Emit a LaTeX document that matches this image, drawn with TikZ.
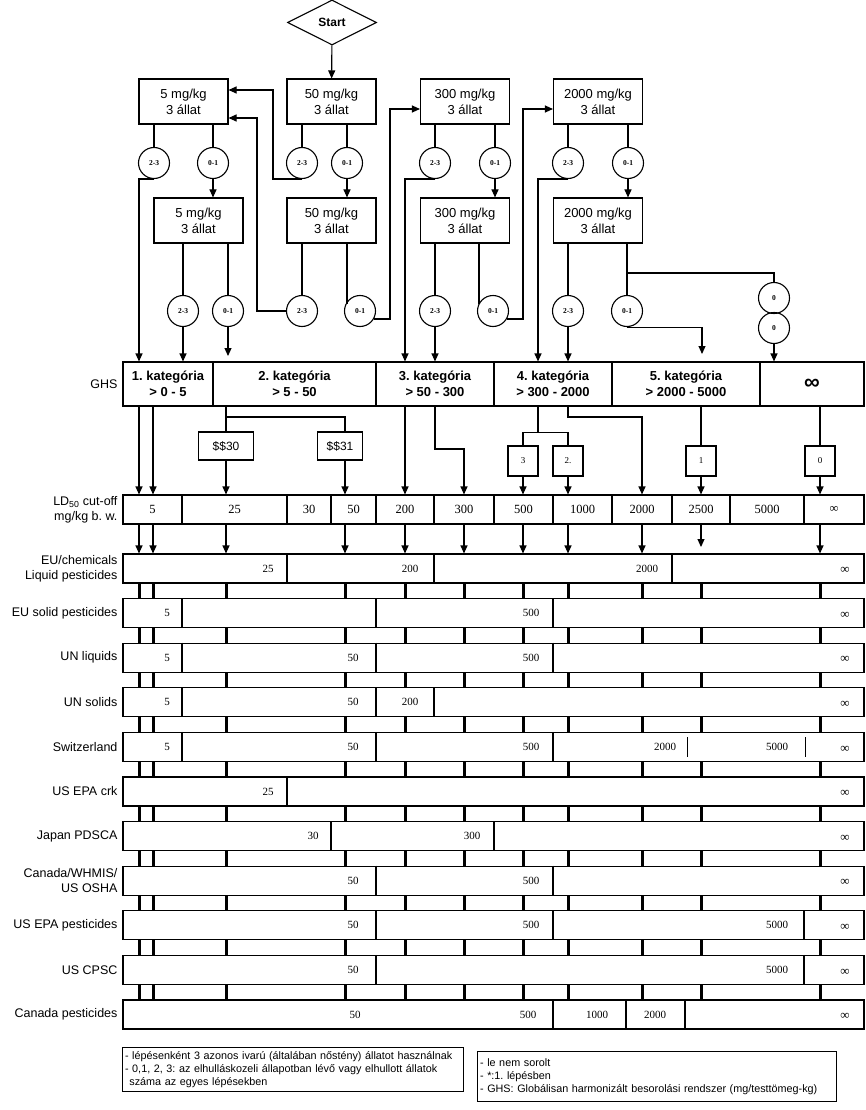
\documentclass[tikz,border=0pt]{standalone}
\usepackage{fontspec}
\setmainfont{Liberation Sans}
\newfontfamily\numfont{Liberation Serif}
\usetikzlibrary{shapes.geometric,arrows.meta}
\frenchspacing

\begin{document}
\begin{tikzpicture}[x=1pt,y=-1pt,line width=1.1pt,
  arr/.style={-{Triangle[length=8pt,width=7pt]}},
  dose/.style={draw,minimum width=89pt,minimum height=45pt,inner sep=0pt,align=center,font=\fontsize{13}{16}\selectfont},
  hit/.style={draw,circle,minimum size=31pt,inner sep=0pt,font=\numfont\bfseries\fontsize{7.5}{8}\selectfont},
  cell/.style={draw,minimum height=44pt,inner sep=0pt,align=center,font=\bfseries\fontsize{13}{16}\selectfont},
  ldcell/.style={draw,minimum height=29pt,inner sep=0pt,font=\numfont\fontsize{12.5}{14}\selectfont},
  tag/.style={draw,minimum size=30pt,inner sep=0pt,font=\numfont\fontsize{9}{10}\selectfont},
  stag/.style={draw,minimum height=28pt,inner sep=0pt,font=\fontsize{12}{14}\selectfont},
  rowbox/.style={draw,minimum width=741pt,minimum height=29pt,inner sep=0pt},
  rowlab/.style={anchor=east,align=right,inner sep=1pt,font=\fontsize{12.5}{15}\selectfont},
  val/.style={inner sep=0pt,font=\numfont\fontsize{11}{12}\selectfont},
  bar/.style={line width=3pt},
  legend/.style={draw,anchor=north west,align=left,inner sep=2.5pt,font=\fontsize{10.8}{13}\selectfont}]
\useasboundingbox (0,0) rectangle (866,1110);

\node[draw,diamond,aspect=2,minimum width=89pt,minimum height=45pt,inner sep=0pt,font=\bfseries\fontsize{12}{14}\selectfont] (start) at (332,22.5) {Start};
\node[dose] (d5a) at (183.5,101.5) {5 mg/kg\\3 állat};
\node[dose] (d50a) at (331.5,101.5) {50 mg/kg\\3 állat};
\node[dose] (d300a) at (465,101.5) {300 mg/kg\\3 állat};
\node[dose] (d2000a) at (598,101.5) {2000 mg/kg\\3 állat};
\node[dose] (d5b) at (198.5,220.5) {5 mg/kg\\3 állat};
\node[dose] (d50b) at (331.5,220.5) {50 mg/kg\\3 állat};
\node[dose] (d300b) at (465,220.5) {300 mg/kg\\3 állat};
\node[dose] (d2000b) at (598,220.5) {2000 mg/kg\\3 állat};
\foreach \n/\x/\y/\t in {k5a/154/163/2-3, n5a/213/163/0-1, k50a/302/163/2-3, n50a/347/163/0-1,
  k300a/435/163/2-3, n300a/495/163/0-1, k2000a/568/163/2-3, n2000a/628/163/0-1,
  k5b/183/311/2-3, n5b/228/311/0-1, k50b/302/311/2-3, n50b/360/311/0-1,
  k300b/435/311/2-3, n300b/493/311/0-1, k2000b/568/311/2-3, n2000b/627/311/0-1, z1/774/298/0, z2/774/328/0}
  \node[hit] (\n) at (\x,\y) {\t};

\foreach \a/\b/\t [count=\i] in {123/213/{1. kategória\\> 0 - 5}, 213/376/{2. kategória\\> 5 - 50},
  376/494/{3. kategória\\> 50 - 300}, 494/612/{4. kategória\\> 300 - 2000},
  612/760/{5. kategória\\> 2000 - 5000}, 760/864/{\fontsize{22}{22}\selectfont ∞}}
  \node[cell,minimum width={(\b-\a)*1pt}] (ghs\i) at ({(\a+\b)/2},384) {\t};
\node[rowlab] (ghslab) at (119,384) {GHS};

\node[stag,minimum width=55pt] (s30) at (226,446) {\$\$30};
\node[stag,minimum width=45pt] (s31) at (340,446) {\$\$31};
\node[tag] (b3) at (523,461) {3};
\node[tag] (b2) at (568,461) {2.};
\node[tag] (b1) at (701,461) {1};
\node[tag] (b0) at (820,461) {0};

\foreach \a/\b/\t [count=\i] in {123/182/5, 182/287/25, 287/331/30, 331/376/50, 376/434/200, 434/494/300,
  494/553/500, 553/612/1000, 612/672/2000, 672/730/2500, 730/804/5000, 804/864/∞}
  \node[ldcell,minimum width={(\b-\a)*1pt}] (ld\i) at ({(\a+\b)/2},509.5) {\t};
\node[rowlab] (ldlab) at (119,509.5) {LD\textsubscript{50} cut-off\\mg/kg b. w.};

\draw[arr] (start) -- (d50a);
\foreach \p/\q in {d5a/k5a, d5a/n5a, d50a/k50a, d50a/n50a, d300a/k300a, d300a/n300a, d2000a/k2000a, d2000a/n2000a,
  d5b/k5b, d5b/n5b, d50b/k50b, d300b/k300b, d2000b/k2000b, d2000b/n2000b}
  \draw (\q |- \p.south) -- (\q);
\draw (d50b.south -| 347,0) -- (n50b.155 -| 347,0);
\draw (d300b.south -| 479,0) -- (n300b.155 -| 479,0);
\foreach \p/\q in {n5a/d5b, n50a/d50b, n300a/d300b, n2000a/d2000b}
  \draw[arr] (\p) -- (\p |- \q.north);

\draw[arr] (k5a.south) -| (ghs1.north -| 139,0);
\draw[arr] (k50a.south) -| (273,90) -- (d5a.east |- 0,90);
\draw[arr] (k50b.west) -| (257,118) -- (d5a.east |- 0,118);
\draw[arr] (n50b.330) -| (390,109) -- (d300a.west |- 0,109);
\draw[arr] (k300a.south) -| (ghs3.north -| 405,0);
\draw[arr] (n300b.330) -| (523,109) -- (d2000a.west |- 0,109);
\draw[arr] (k2000a.south) -| (ghs4.north -| 538,0);
\coordinate (e5b) at (228,356);
\coordinate (e2000b) at (702,354);
\draw[arr] (k5b) -- (k5b |- ghs1.north);
\draw[arr] (n5b) -- (e5b);
\draw[arr] (k300b) -- (k300b |- ghs3.north);
\draw[arr] (k2000b) -- (k2000b |- ghs4.north);
\draw[arr] (n2000b.south) -| (e2000b);
\draw (n2000b |- 0,273) -| (z1);
\draw[arr] (z2) -- (z2 |- ghs6.north);

\draw[arr] (ghs1.south -| 139,0) -- (ld1.north -| 139,0);
\draw[arr] (ghs1.south -| 153,0) -- (ld1.north -| 153,0);
\draw (ghs2.south -| s30) -- (s30); \draw (s30 |- 0,417) -| (s31.north -| 345,0);
\draw[arr] (s30) -- (s30 |- ld1.north); \draw[arr] (s31.south -| 345,0) -- (ld1.north -| 345,0);
\draw[arr] (ghs3.south -| 405,0) -- (ld1.north -| 405,0);
\draw[arr] (ghs3.south -| 435,0) |- (464,449) -- (ld1.north -| 464,0);
\draw (ghs4.south -| 538,0) -- (538,433); \draw (b3.north) -- ++(0,-13) -| (b2.north);
\draw[arr] (ghs4.south -| b2) |- (642,417) -- (ld1.north -| 642,0);
\draw (ghs5.south -| b1) -- (b1); \draw (ghs6.south -| b0) -- (b0);
\foreach \p in {b3,b2,b1,b0} \draw[arr] (\p) -- (\p |- ld1.north);

\foreach \nm/\dv/\vl [count=\i from 0] in {
  {EU/chemicals\\Liquid pesticides}/{287,434,672}/{268/25,410/200,647/2000},
  {EU solid pesticides}/{182,376,553}/{167/5,531/500},
  {UN liquids}/{182,376,553}/{167/5,353/50,531/500},
  {UN solids}/{182,376,434}/{167/5,353/50,410/200},
  {Switzerland}/{182,376,553}/{167/5,353/50,531/500,665/2000,777/5000},
  {US EPA crk}/{287}/{268/25},
  {Japan PDSCA}/{331,494}/{313/30,472/300},
  {Canada/WHMIS/\\US OSHA}/{376,553}/{353/50,531/500},
  {US EPA pesticides}/{376,553,804}/{353/50,531/500,777/5000},
  {US CPSC}/{376,804}/{353/50,777/5000},
  {Canada pesticides}/{553,626,685}/{355/50,528/500,597/1000,655/2000}}{
  \pgfmathsetmacro\ry{568.5+44.6*\i}
  \node[rowbox] (row\i) at (493.5,\ry) {};
  \node[rowlab] (lab\i) at (119,\ry) {\nm};
  \foreach \d in \dv \draw (row\i.north -| \d,0) -- (row\i.south -| \d,0);
  \foreach \x/\t in \vl \node[val] (v\i-\x) at (\x,\ry) {\t};
  \node[val,font=\numfont\fontsize{13}{14}\selectfont] (inf\i) at (845,\ry+2) {∞};
}
\draw[line width=0.8pt] (687,737) -- (687,757); \draw[line width=0.8pt] (805,737) -- (805,757);

\foreach \x in {139,153,226,345,405,464,523,568,642,820} \draw[arr] (ld1.south -| \x,0) -- (row0.north -| \x,0);
\draw[arr] (ld1.south -| 701,0) -- (701,547);
\foreach \i [evaluate=\i as \j using int(\i+1)] in {0,...,9}
  \foreach \x in {139,153,226,345,405,464,523,568,642,701,820}
    \draw[bar] (row\i.south -| \x,0) -- (row\j.north -| \x,0);

\node[legend,text width=336pt,minimum height=44pt] (leg1) at (122,1047) {- lépésenként 3 azonos ivarú (általában nőstény) állatot használnak\\- 0,1, 2, 3: az elhulláskozeli állapotban lévő vagy elhullott állatok\\\hspace*{0.4em}száma az egyes lépésekben};
\node[legend,text width=354pt,minimum height=50pt] (leg2) at (477,1051) {- le nem sorolt\\- *:1. lépésben\\- GHS: Globálisan harmonizált besorolási rendszer (mg/testtömeg-kg)};
\end{tikzpicture}
\end{document}
